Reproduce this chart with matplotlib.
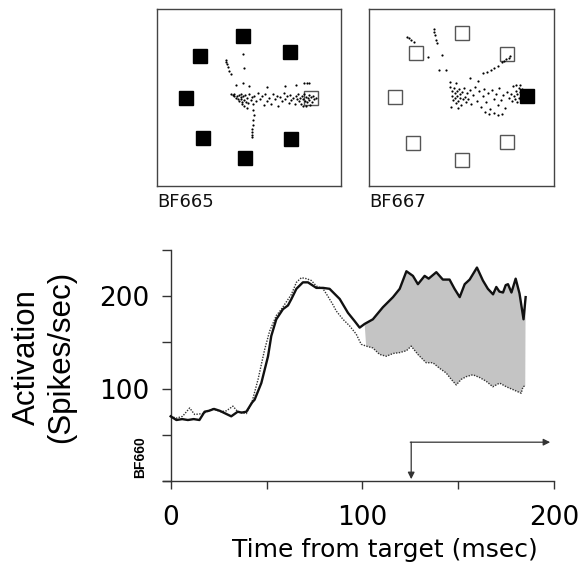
import numpy as np
import matplotlib
matplotlib.use('Agg')
import matplotlib.pyplot as plt

# ---- data ----
# activation traces (spikes/sec) vs time from target (msec)
t_solid = [0, 3, 6, 9, 12, 15, 17.7, 20, 22.6, 25.6, 28.6, 31.6, 35, 37, 39.5, 42.5,
           43.8, 47.3, 50.8, 52.5, 55.1, 58.6, 61.2, 63, 65.6, 69, 71.6, 76, 79.5,
           82.9, 88.2, 92.5, 96, 98.6, 101.2, 105.5, 110.7, 116, 119.5, 123, 126.4,
           129, 132.5, 134.6, 138.6, 142, 145.5, 148.1, 150.8, 153.4, 156, 159.8,
           162.9, 165.5, 168.2, 169.9, 171.5, 173.4, 174.8, 176, 177.8, 180, 182,
           184.1, 185.2]
v_solid = [70, 66, 67, 66, 67, 66, 75, 76, 78, 76, 73, 70, 75, 74, 75, 85,
           88, 106, 135, 157, 175, 186, 190, 197, 208, 215, 215, 209, 209,
           208, 197, 182, 173, 166, 170, 175, 188, 199, 208, 227, 222,
           213, 222, 219, 226, 218, 218, 208, 199, 213, 218, 231,
           217, 208, 202, 210, 205, 204, 212, 213, 204, 219, 203,
           175, 199]

t_dot = [0, 3, 6.2, 9.9, 12.5, 16.9, 22, 26.3, 29.1, 32.5, 35, 39.5, 42.5, 45.6,
         49, 51.6, 55.1, 57.8, 63, 65.6, 68.2, 70.8, 73.4, 76, 79.5, 82, 84.6,
         86.4, 89.9, 93.3, 96.8, 99.4, 102, 105.5, 109, 112.5, 116, 119.5, 123,
         125.5, 129, 133.3, 136.8, 140.3, 143.7, 146.4, 149, 151.6, 154.3, 157.7,
         161.2, 164.6, 168.1, 171.6, 175.1, 178.5, 182.9, 183.8, 185]
v_dot = [70, 68, 70, 79, 72, 73, 78, 75, 76, 81, 75, 73, 86, 110,
         142, 162, 179, 186, 202, 215, 220, 219, 217, 211, 208, 200, 191,
         184, 175, 168, 159, 148, 146, 144, 137, 135, 138, 139, 141,
         146, 137, 128, 128, 122, 117, 110, 104, 110, 113, 115,
         112, 108, 102, 106, 102, 99, 95, 102, 103]

shade_start = 100.5     # shaded difference begins here
go_time = 125.5         # vertical arrow marker
arrow_level = 42

x_major = [0, 100, 200]
x_minor = [50, 150]
y_major = [100, 200]
y_minor = [0, 50, 150, 250]

# eye position samples (deg) and target positions for the two insets
tgt665_x = [-0.6, 6.9, 10.4, -9.8, -7.5, -7.0, -0.3, 7.1]
tgt665_y = [10.0, 7.5, 0.1, 0.0, 6.8, -6.5, -9.6, -6.6]
tgt665_fill = [1, 1, 0, 1, 1, 1, 1, 1]

tgt667_x = [0.1, 7.4, 10.6, -10.6, -7.3, -7.7, 0.2, 7.5]
tgt667_y = [10.4, 7.0, 0.2, 0.0, 7.1, -7.4, -10.2, -7.3]
tgt667_fill = [0, 0, 1, 0, 0, 0, 0, 0]

eye665 = [(-3.4, 6.1), (-3.3, 5.8), (-3.2, 5.5), (-3.0, 5.0), (-2.8, 4.4), (-2.6, 3.9),
          (-0.6, 7.2), (-0.4, 4.8), (-1.7, 2.1), (-0.6, 2.5), (0.3, 1.9), (3.2, 1.8),
          (6.1, 2.0), (7.9, 2.1), (9.3, 2.5), (9.7, 2.5), (10.1, 2.4),
          (-2.5, 0.6), (-2.3, 0.5), (-2.1, 0.7), (-2.0, 0.3), (-1.8, 0.1), (-1.6, 0.4),
          (-1.5, -0.2), (-1.3, 0.5), (-1.2, -0.4), (-1.0, 0.2), (-0.9, 0.7), (-0.9, -0.1),
          (-0.8, -0.6), (-0.7, -0.9), (-0.6, 0.3), (-0.5, -0.3), (-0.4, -1.2), (-0.3, 0.5),
          (-0.2, -0.6), (0.0, 0.1), (0.2, -0.8), (0.4, 0.6), (0.6, -0.3), (0.8, 0.2),
          (1.0, -1.0), (1.2, 0.4), (1.5, -0.5), (1.8, 0.8), (2.1, -0.2), (2.4, 0.3),
          (2.7, -1.1), (3.0, 0.6), (3.3, -0.4), (3.6, 0.1), (3.9, -0.9), (4.2, 0.7),
          (4.5, -0.1), (4.8, 0.4), (5.1, -1.2), (5.4, 0.2), (5.7, -0.5), (6.0, 0.9),
          (6.2, -0.2), (6.5, 0.3), (6.8, -0.8), (7.0, 0.5), (7.2, -0.3), (7.5, 0.1),
          (7.7, -1.0), (7.9, 0.4), (8.1, -0.2), (8.3, 0.6), (8.5, -0.5), (8.6, 0.1),
          (8.8, -0.9), (8.9, 0.3), (9.1, -0.1), (9.2, 0.7), (9.4, -0.4), (9.5, 0.2),
          (9.7, -0.7), (9.8, 0.0), (10.0, 0.5), (10.1, -0.3), (10.3, 0.2), (10.5, -0.6),
          (10.7, 0.4), (10.9, -0.2), (11.1, 0.1), (9.0, -1.2), (9.6, -1.3), (10.2, -1.1),
          (0.0, -1.6), (1.0, -2.0), (1.1, -2.8), (1.0, -3.6), (1.0, -4.3), (0.9, -5.0),
          (0.9, -5.5), (0.8, -5.9), (0.9, -6.3)]

eye667 = [(-8.6, 9.7), (-8.3, 9.5), (-8.0, 9.2), (-7.6, 8.9),
          (-4.3, 10.9), (-4.3, 10.5), (-4.2, 10.0), (-4.0, 9.2), (-3.9, 8.7),
          (-3.0, 6.8), (-5.3, 6.4), (-3.6, 4.4), (-2.4, 4.4), (1.5, 3.0), (2.8, 2.6),
          (-1.8, 2.4), (-0.8, 2.2),
          (3.6, 3.8), (4.2, 4.1), (4.8, 4.3), (5.4, 4.6), (6.0, 5.0), (6.6, 5.6),
          (7.0, 5.8), (7.3, 6.1), (7.7, 6.3), (7.9, 6.6),
          (-1.8, 1.6), (-1.5, 1.0), (-1.4, 0.2), (-1.3, -0.5), (-1.1, 1.4), (-1.0, 0.6),
          (-0.9, -0.2), (-0.8, -1.0), (-0.7, 0.9), (-0.6, 0.1), (-0.5, -0.6), (-0.3, 1.2),
          (-0.2, -0.2), (-0.1, 0.5), (0.0, -1.3), (0.2, 0.8), (0.3, -0.4), (0.5, 1.5),
          (0.6, 0.0), (0.8, -0.9), (1.0, 0.7), (1.2, -0.3), (1.4, 1.1), (-1.6, -1.6),
          (-0.4, -1.8), (1.7, -1.2), (2.0, 0.3), (2.3, 1.6), (2.6, -0.6), (2.9, 0.9),
          (3.2, -1.6), (3.5, 0.2), (3.8, 1.3), (4.1, -0.8), (4.4, 0.6), (4.7, -2.0),
          (5.0, 1.1), (5.3, -0.3), (5.6, 0.5), (5.9, -1.3), (6.2, 1.4), (6.5, -0.5),
          (6.8, 0.3), (7.1, -1.8), (7.4, 0.8), (7.7, -0.2),
          (3.9, -2.4), (4.6, -2.7), (5.3, -2.6), (5.9, -2.9), (6.6, -2.7),
          (8.0, 0.5), (8.2, -0.6), (8.4, 1.7), (8.5, 0.2), (8.7, -0.3), (8.8, 1.0),
          (9.0, -0.9), (9.1, 0.4), (9.3, 1.5), (9.4, -0.2), (9.6, 0.8), (9.7, -0.6),
          (9.9, 1.2), (10.0, 0.0), (8.9, 1.9), (9.5, 2.0)]

W, H = 582, 573
fig = plt.figure(figsize=(W / 100, H / 100), dpi=100)


def inset(box, tx, ty, tfill, eye, lim, label):
    ax = fig.add_axes(box)
    ax.set_xlim(lim[0], lim[1])
    ax.set_ylim(lim[2], lim[3])
    ax.set_xticks([])
    ax.set_yticks([])
    for s in ax.spines.values():
        s.set_color('#444444')
        s.set_linewidth(1.0)
    ex = [p[0] for p in eye]
    ey = [p[1] for p in eye]
    for x, y, f in zip(tx, ty, tfill):
        ax.plot(x, y, 's', ms=10, mfc='black' if f else 'white',
                mec='black' if f else '#555555', mew=1.0, zorder=1)
    ax.scatter(ex, ey, s=2.5, c='black', linewidths=0, zorder=2)
    fig.text(box[0], box[1] - 16 / H, label, fontsize=13, ha='left', va='center',
             family='DejaVu Sans', color='#111111')
    return ax


inset([157 / W, 1 - 186 / H, 184 / W, 177 / H], tgt665_x, tgt665_y, tgt665_fill,
      eye665, (-14.5, 15.2, -14.2, 14.4), 'BF665')
inset([369 / W, 1 - 186 / H, 185 / W, 177 / H], tgt667_x, tgt667_y, tgt667_fill,
      eye667, (-14.8, 15.0, -14.4, 14.2), 'BF667')

# ---- main activation plot ----
ax = fig.add_axes([163 / W, 1 - 481 / H, 391 / W, 231 / H])
ax.set_xlim(-4, 200)
ax.set_ylim(0, 250)

ts = np.array(t_solid)
vs = np.array(v_solid)
td = np.array(t_dot)
vd = np.array(v_dot)
ms = ts >= shade_start
md = td >= shade_start
ax.fill(np.concatenate([ts[ms], td[md][::-1]]),
        np.concatenate([vs[ms], vd[md][::-1]]),
        color='#c4c4c4', lw=0, zorder=1)
ax.plot(td, vd, color='#333333', lw=1.0, ls=(0, (1, 1)), zorder=2)
ax.plot(ts, vs, color='#111111', lw=1.7, zorder=3)

arrow = dict(arrowstyle='-|>', lw=0.9, color='#333333', mutation_scale=10,
             shrinkA=0, shrinkB=0)
ax.annotate('', xy=(go_time, 2), xytext=(go_time, arrow_level), arrowprops=arrow)
ax.annotate('', xy=(198, arrow_level), xytext=(go_time - 0.5, arrow_level),
            arrowprops=arrow)

for side in ['top', 'right']:
    ax.spines[side].set_visible(False)
ax.spines['left'].set_position(('data', 0))
for side in ['left', 'bottom']:
    ax.spines[side].set_color('#333333')
    ax.spines[side].set_linewidth(1.0)

ax.set_xticks(x_major)
ax.set_xticks(x_minor, minor=True)
ax.set_yticks(y_major)
ax.set_yticks(y_minor, minor=True)
ax.tick_params(axis='both', which='both', direction='out', color='#333333', width=1.0)
ax.tick_params(axis='x', which='both', length=6, pad=11, labelsize=19)
ax.tick_params(axis='y', which='both', length=6.5, pad=9, labelsize=19)

fig.text(385 / W, 1 - 550 / H, 'Time from target (msec)', fontsize=18,
         ha='center', va='center', family='DejaVu Sans')
fig.text(44 / W, 1 - 357 / H, 'Activation\n(Spikes/sec)', fontsize=22.5,
         rotation=90, ha='center', va='center', multialignment='center',
         family='Liberation Sans', linespacing=1.2)
fig.text(140 / W, 1 - 457 / H, 'BF660', fontsize=10, fontweight='bold',
         rotation=90, ha='center', va='center', family='Liberation Sans')

fig.savefig('out.png', dpi=100)
